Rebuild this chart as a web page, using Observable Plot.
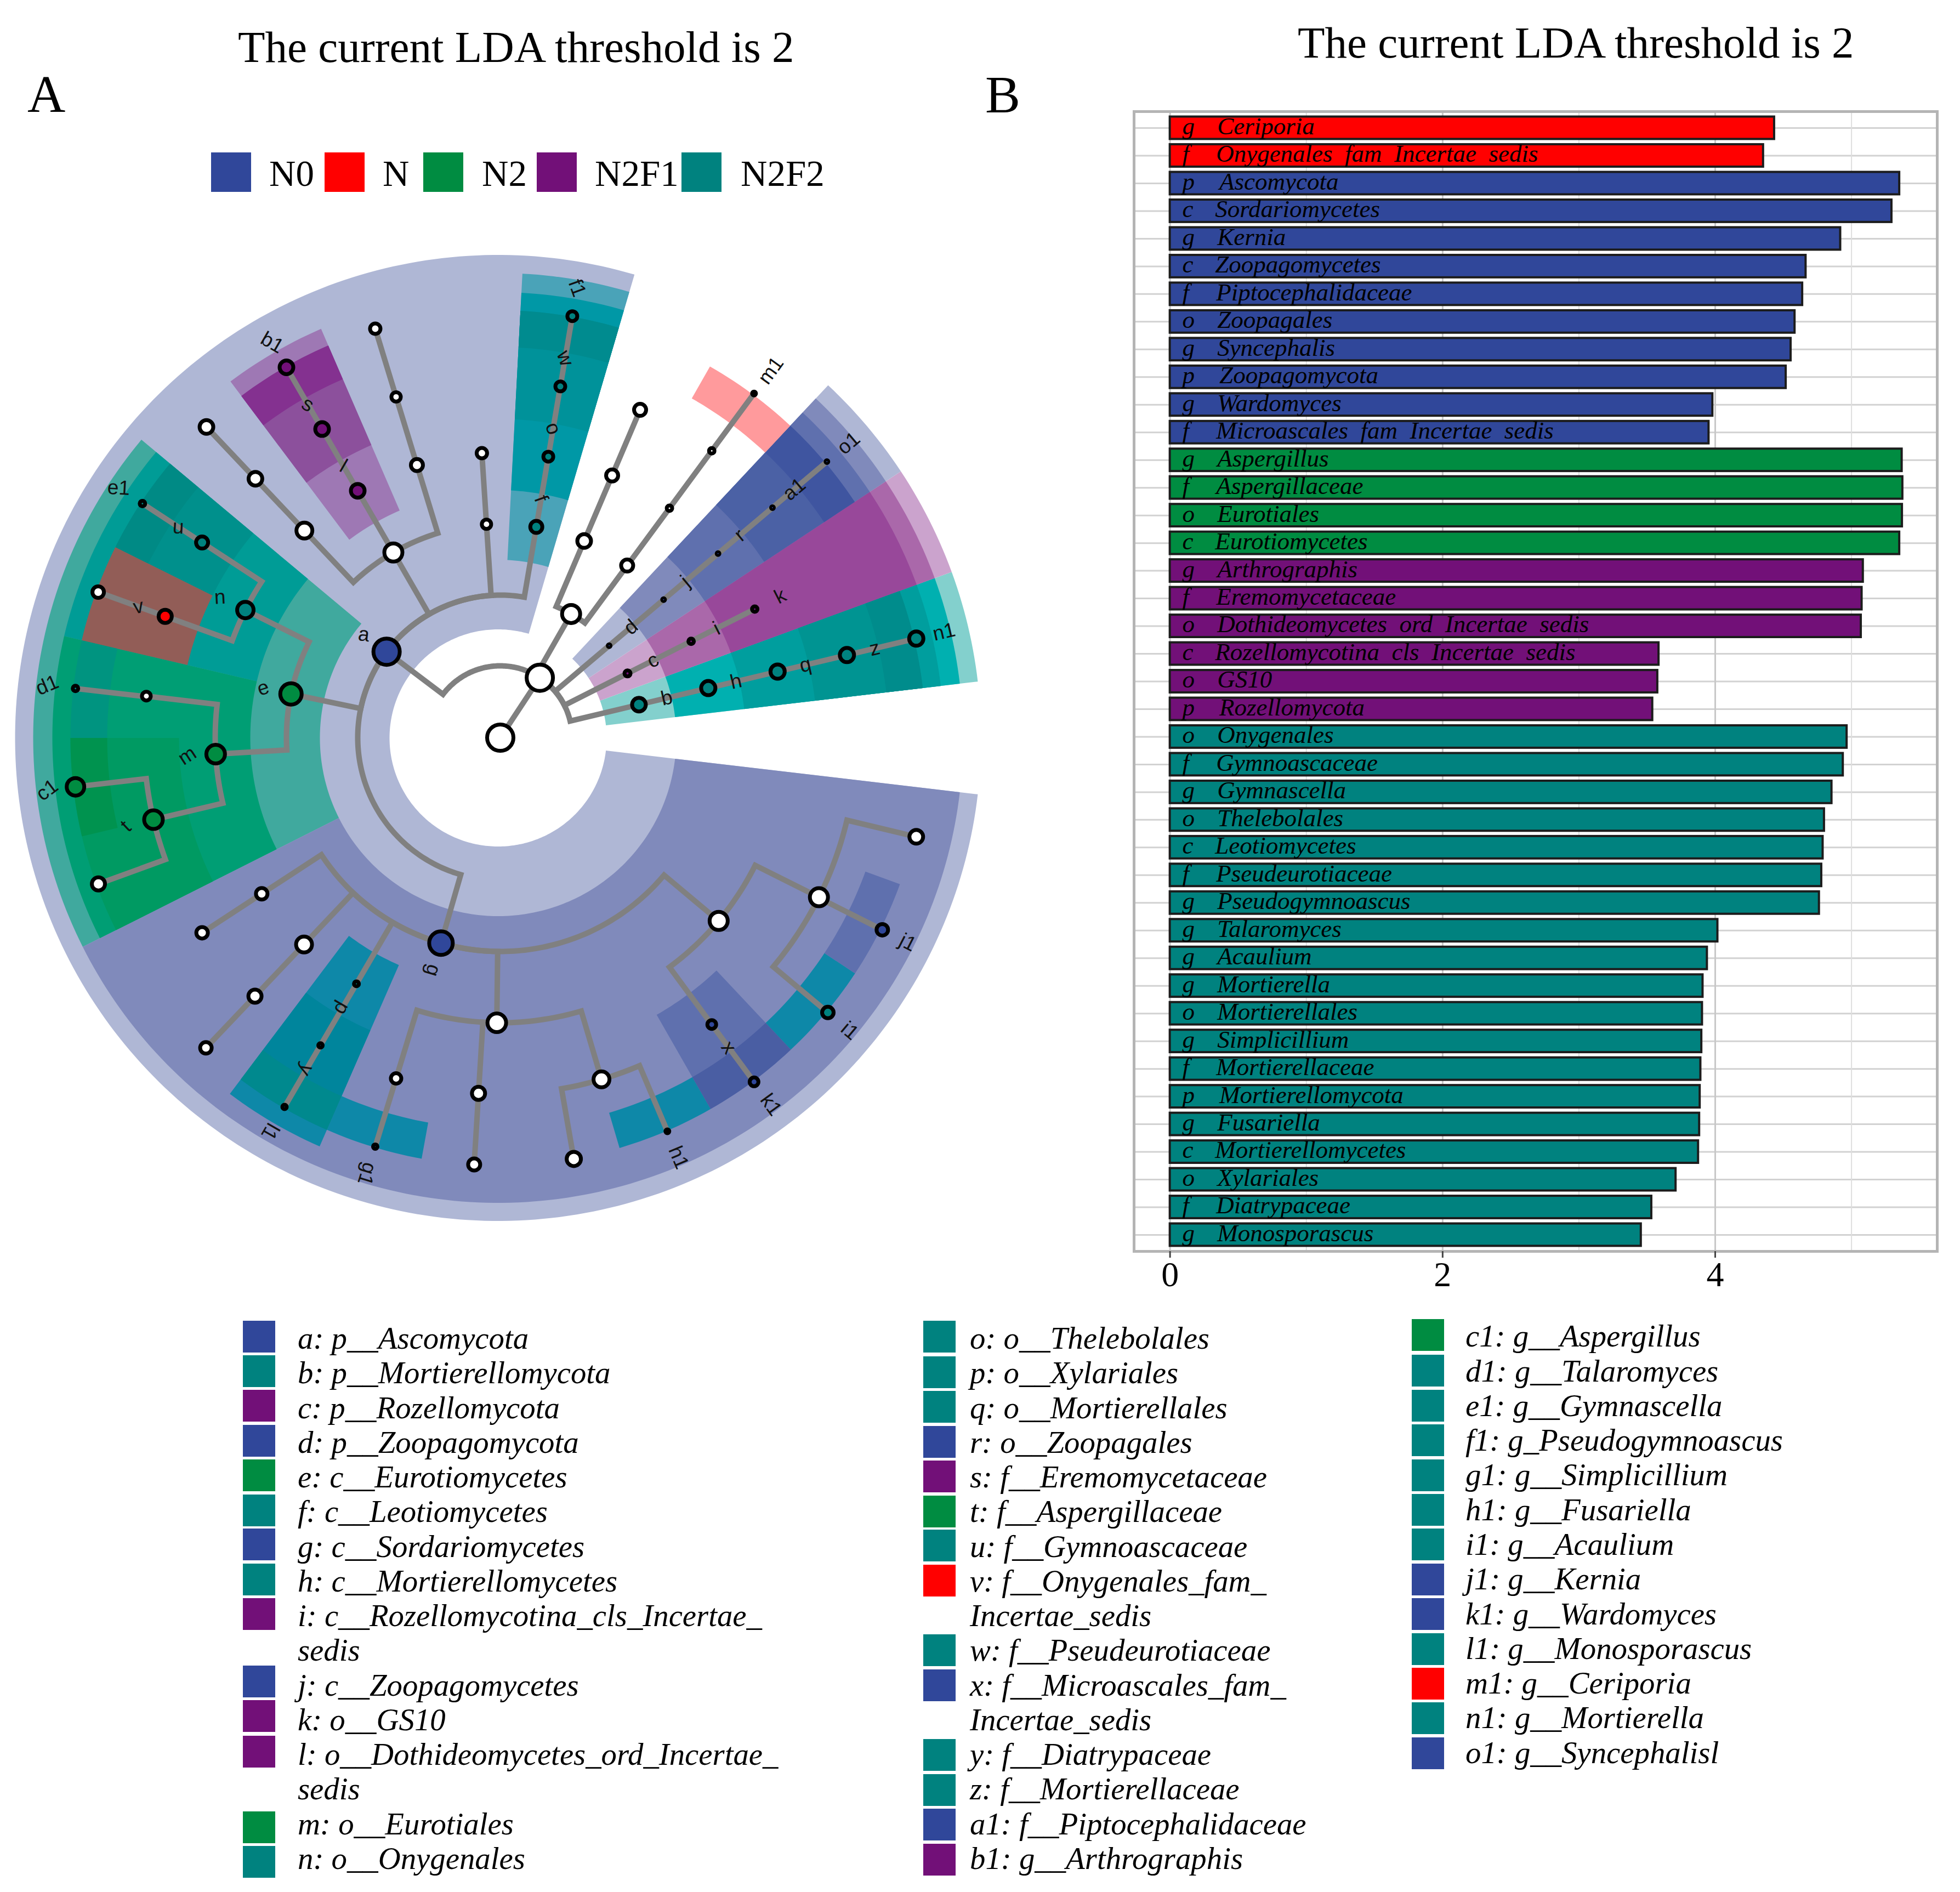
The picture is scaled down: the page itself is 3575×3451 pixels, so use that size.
<!DOCTYPE html>
<html>
<head>
<meta charset="utf-8">
<script src="https://cdn.jsdelivr.net/npm/d3@7"></script>
<script src="https://cdn.jsdelivr.net/npm/@observablehq/plot@0.6"></script>
<style>
html,body{margin:0;padding:0;background:#fff}
#page{position:relative;width:3575px;height:3451px;overflow:hidden;font-family:"Liberation Serif",serif;color:#000}
#page>*{position:absolute}
.t{white-space:pre;line-height:1}
.sw{display:block}
</style>
</head>
<body>
<div id="page"></div>
<script>
// ---------- group colours ----------
const groupNames = ["N0","N","N2","N2F1","N2F2"];
const groupColors = {N0:"#30479A",N:"#FF0000",N2:"#008C41",N2F1:"#721078",N2F2:"#00827F",none:"#FFFFFF"};

// ---------- panel B: LDA bars ----------
const barRanks = ["g","f","p","c","g","c","f","o","g","p","g","f","g","f","o","c","g","f","o","c","o","p","o","f","g","o","c","f","g","g","g","g","o","g","f","p","g","c","o","f","g"];
const barTaxa = ["Ceriporia","Onygenales_fam_Incertae_sedis","Ascomycota","Sordariomycetes","Kernia","Zoopagomycetes","Piptocephalidaceae","Zoopagales","Syncephalis","Zoopagomycota","Wardomyces","Microascales_fam_Incertae_sedis","Aspergillus","Aspergillaceae","Eurotiales","Eurotiomycetes","Arthrographis","Eremomycetaceae","Dothideomycetes_ord_Incertae_sedis","Rozellomycotina_cls_Incertae_sedis","GS10","Rozellomycota","Onygenales","Gymnoascaceae","Gymnascella","Thelebolales","Leotiomycetes","Pseudeurotiaceae","Pseudogymnoascus","Talaromyces","Acaulium","Mortierella","Mortierellales","Simplicillium","Mortierellaceae","Mortierellomycota","Fusariella","Mortierellomycetes","Xylariales","Diatrypaceae","Monosporascus"];
const barLDA = [4.434,4.353,5.352,5.295,4.919,4.665,4.640,4.584,4.555,4.519,3.981,3.953,5.370,5.375,5.372,5.352,5.085,5.076,5.070,3.586,3.577,3.540,4.966,4.938,4.855,4.800,4.790,4.780,4.763,4.018,3.941,3.909,3.905,3.900,3.893,3.888,3.884,3.876,3.711,3.533,3.456];
const barGroups = ["N","N","N0","N0","N0","N0","N0","N0","N0","N0","N0","N0","N2","N2","N2","N2","N2F1","N2F1","N2F1","N2F1","N2F1","N2F1","N2F2","N2F2","N2F2","N2F2","N2F2","N2F2","N2F2","N2F2","N2F2","N2F2","N2F2","N2F2","N2F2","N2F2","N2F2","N2F2","N2F2","N2F2","N2F2"];
const nameStart = {g:0.346,f:0.338,c:0.33,o:0.346,p:0.362};
const majorTicks = [0,2,4];
const minorTicks = [1,3,5];

// ---------- panel A: cladogram ----------
const levelRadius = [0,131,260,390,520,650,780];
const nodeId = ["root","K","a","b","c","d","P","e","f","g","C1","C2","h","i","j","C3","C4","O1","O2","k","r","q","o","O3","l","O4","O5","n","m","O6","O7","p","O8","O9","F1","F2","a1","z","w","s","F3","F4","u","v","F5","t","F6","F7","y","F8","F9","F10","x","F11","m1","o1","n1","f1","b1","G1","G2","e1","G3","d1","c1","G4","G5","l1","g1","G6","G7","h1","k1","i1","j1","G8"];
const nodeParent = [null,"root","K","K","K","K","K","a","a","a","a","a","b","c","d","P","P","C3","C4","i","j","h","f","C1","C2","C2","C2","e","e","g","g","g","g","g","O1","O2","r","q","o","l","O4","O5","n","n","m","m","O6","O7","p","O8","O8","O8","O9","O9","F2","a1","z","w","s","F3","F4","u","v","F5","t","t","F7","y","F8","F9","F10","F10","x","F11","F11","F11"];
const nodeAngle = [0,56.6,142.9,13.4,26.8,40.2,60.2,168.2,80.3,253.9,93.7,120,13.4,26.8,40.2,66.9,53.6,66.9,53.6,26.8,40.2,13.4,80.3,93.7,120,107,133.4,153.4,183.3,213.2,226.5,239.7,269.3,320,66.9,53.6,40.2,13.4,80.3,120,107,133.4,146.8,160.1,173.3,193.3,213.2,226.5,239.7,253,266.5,286.5,306.4,333.4,53.6,40.2,13.4,80.3,120,107,133.4,146.8,160.1,173.4,186.6,200,226.5,239.7,253,266.5,279.9,293,306.4,320,333.3,346.6];
const nodeLevel = [0,1,2,2,2,2,2,3,3,3,3,3,3,3,3,3,3,4,4,4,4,4,4,4,4,4,4,4,4,4,4,4,4,4,5,5,5,5,5,5,5,5,5,5,5,5,5,5,5,5,5,5,5,5,6,6,6,6,6,6,6,6,6,6,6,6,6,6,6,6,6,6,6,6,6,6];
const nodeSize = [55,55,55,32,18,12,40,46,29,50,24,40,33,17,12,32,29,29,17,17,12,33,25,26,32,29,36,37,41,28,36,16,41,40,29,17,12,33,25,32,24,32,29,31,23,41,28,31,15,26,31,36,23,40,14,12,33,25,32,26,32,17,28,17,39,31,28,15,15,29,33,14,23,28,28,32];
const nodeGroup = ["none","none","N0","N2F2","N2F1","N0","none","N2","N2F2","N0","none","none","N2F2","N2F1","N0","none","none","none","none","N2F1","N0","N2F2","N2F2","none","N2F1","none","none","N2F2","N2","none","none","N2F2","none","none","none","none","N0","N2F2","N2F2","N2F1","none","none","N2F2","N","none","N2","none","none","N2F2","none","none","none","N0","none","N","N0","N2F2","N2F2","N2F1","none","none","N2F2","none","N2F2","N2","none","none","N2F2","N2F2","none","none","N2F2","N0","N2F2","N0","none"];

// labels shown in the tree and their text turn
const labelNames = ["a","b","c","d","e","f","g","h","i","j","k","l","m","n","o","p","q","r","s","t","u","v","w","x","y","z","a1","b1","c1","d1","e1","f1","g1","h1","i1","j1","k1","l1","m1","n1","o1"];
const labelTurn = [7,-13,-27,-40,-18,70,106,-13,-27,-40,-27,30,-33,-3,70,120,-13,-40,30,-43,3,-10,70,54,120,-13,-40,30,-37,-23,3,70,107,67,40,27,54,120,-54,-13,-40];

// ring sectors: clade, first angle, last angle, rank, shade
const sectorClade = ["b","c","d","a","h","i","j","f","e","g","q","k","r","o","l","n","m","p","z","a1","w","s","u","v","t","y","x","n1","o1","f1","b1","e1","d1","c1","g1","h1","i1","j1","k1","l1","m1"];
const sectorFrom = [6.7,20.1,33.5,73.6,6.7,20.1,33.5,73.6,140.1,206.7,6.7,20.1,33.5,73.6,113.4,140.1,166.8,233,6.7,33.5,73.6,113.4,140.1,153.5,180,233,299.8,6.7,33.5,73.6,113.4,140.1,166.8,180,246.4,286.5,313.2,326.6,299.8,233,46.9];
const sectorTo = [20.1,33.5,46.9,353.3,20.1,33.5,46.9,87,206.7,353.3,20.1,33.5,46.9,87,126.9,166.8,206.7,246.4,20.1,46.9,87,126.9,153.5,166.8,206.7,246.4,313.2,20.1,46.9,87,126.9,153.5,180,193.3,259.7,299.8,326.6,340,313.2,246.4,60.3];
const sectorRank = ["phylum","phylum","phylum","phylum","class","class","class","class","class","class","order","order","order","order","order","order","order","order","family","family","family","family","family","family","family","family","family","genus","genus","genus","genus","genus","genus","genus","genus","genus","genus","genus","genus","genus","genus"];
const sectorShade = ["#83D0CD","#CBA3CD","#AFB7D5","#AFB7D5","#00B0B0","#AA68AA","#808ABB","#4AA3B8","#40A99E","#808ABB","#009E9E","#98489A","#5F70AE","#0098A6","#9E78B4","#009C96","#009E74","#0E88A8","#009492","#4B61A5","#00929A","#8C509C","#00908C","#925D57","#009A62","#00859C","#5F70AE","#008C8C","#3F55A0","#008B8F","#843190","#008A85","#009480","#00934F","#0E88A8","#0E88A8","#0E88A8","#5F70AE","#4A5EA3","#00898E","#FF9A9C"];
const rankInner = {phylum:198,class:325,order:452,family:582,genus:713};
const rankOuter = {phylum:881,class:848,order:813,family:780,genus:780};

// ---------- legend text ----------
const topLegendX = [385,592,772,979,1243];
const topLegendTextX = [491,698,879,1085,1351];
const legendCols = [
 {sw:443,tx:543,base:2460.6,top:[2409,2472,2535,2599,2662,2726,2788,2852,2915,null,3038,3101,3166,null,3304,3367],
  rows:[["a: p__Ascomycota","N0"],["b: p__Mortierellomycota","N2F2"],["c: p__Rozellomycota","N2F1"],["d: p__Zoopagomycota","N0"],["e: c__Eurotiomycetes","N2"],["f: c__Leotiomycetes","N2F2"],["g: c__Sordariomycetes","N0"],["h: c__Mortierellomycetes","N2F2"],["i: c__Rozellomycotina_cls_Incertae_","N2F1"],["sedis",null],["j: c__Zoopagomycetes","N0"],["k: o__GS10","N2F1"],["l: o__Dothideomycetes_ord_Incertae_","N2F1"],["sedis",null],["m: o__Eurotiales","N2"],["n: o__Onygenales","N2F2"]]},
 {sw:1684,tx:1769,base:2460.6,top:[2409,2474,2537,2601,2664,2728,2790,2854,null,2981,3045,null,3172,3236,3299,3363],
  rows:[["o: o__Thelebolales","N2F2"],["p: o__Xylariales","N2F2"],["q: o__Mortierellales","N2F2"],["r: o__Zoopagales","N0"],["s: f__Eremomycetaceae","N2F1"],["t: f__Aspergillaceae","N2"],["u: f__Gymnoascaceae","N2F2"],["v: f__Onygenales_fam_","N"],["Incertae_sedis",null],["w: f__Pseudeurotiaceae","N2F2"],["x: f__Microascales_fam_","N0"],["Incertae_sedis",null],["y: f__Diatrypaceae","N2F2"],["z: f__Mortierellaceae","N2F2"],["a1: f__Piptocephalidaceae","N0"],["b1: g__Arthrographis","N2F1"]]},
 {sw:2575,tx:2673,base:2457,top:[2406,2471,2535,2598,2662,2725,2788,2852,2915,2979,3042,3105,3169],
  rows:[["c1: g__Aspergillus","N2"],["d1: g__Talaromyces","N2F2"],["e1: g__Gymnascella","N2F2"],["f1: g_Pseudogymnoascus","N2F2"],["g1: g__Simplicillium","N2F2"],["h1: g__Fusariella","N2F2"],["i1: g__Acaulium","N2F2"],["j1: g__Kernia","N0"],["k1: g__Wardomyces","N0"],["l1: g__Monosporascus","N2F2"],["m1: g__Ceriporia","N"],["n1: g__Mortierella","N2F2"],["o1: g__Syncephalisl","N0"]]}
];

// ---------- helpers ----------
const page = document.getElementById("page");
function addText(str,x,baseline,size,style){
  const d=document.createElement("div");
  d.className="t"; d.textContent=str;
  d.style.left=x+"px"; d.style.top=(baseline-0.8375*size)+"px"; d.style.fontSize=size+"px";
  if(style) d.style.fontStyle=style;
  page.appendChild(d);
}
function addSwatch(x,y,w,h,c){
  const d=document.createElement("div");
  d.className="sw"; d.style.cssText=`left:${x}px;top:${y}px;width:${w}px;height:${h}px;background:${c}`;
  page.appendChild(d);
}
const rad = a=>a*Math.PI/180;
const px = (r,a)=>r*Math.cos(rad(a));
const py = (r,a)=>r*Math.sin(rad(a));

// titles and panel letters
addText("The current LDA threshold is 2",434,114,81);
addText("The current LDA threshold is 2",2367,106,81);
addText("A",50,204,96);
addText("B",1797,205,96);

// top legend
groupNames.forEach((g,i)=>{
  addSwatch(topLegendX[i],278,73,72,groupColors[g]);
  addText(g,topLegendTextX[i],339,67);
});

// lower legend
const rowStep = 63.26;
legendCols.forEach(col=>{
  col.rows.forEach(([label,g],i)=>{
    addText(label,col.tx,col.base+i*rowStep,56.8,"italic");
    if(g) addSwatch(col.sw,col.top[i],59,58,groupColors[g]);
  });
});

// ---------- cladogram ----------
const sectorCentreX = -3.5, sectorCentreY = -1;
const nodes = nodeId.map((id,i)=>({id,parent:nodeParent[i],angle:nodeAngle[i],radius:levelRadius[nodeLevel[i]],size:nodeSize[i],group:nodeGroup[i]}));
const byId = new Map(nodes.map(n=>[n.id,n]));
const edgePoints = [];
for(const n of nodes){
  if(!n.parent) continue;
  const p = byId.get(n.parent);
  const steps = Math.max(1,Math.ceil(Math.abs(n.angle-p.angle)));
  for(let s=0;s<=steps;s++){
    const a = p.angle+(n.angle-p.angle)*s/steps;
    edgePoints.push({id:n.id,x:px(p.radius,a),y:py(p.radius,a)});
  }
  edgePoints.push({id:n.id,x:px(n.radius,n.angle),y:py(n.radius,n.angle)});
}
const sectorPoints = [];
sectorClade.forEach((c,i)=>{
  const from=sectorFrom[i],to=sectorTo[i],r0=rankInner[sectorRank[i]],r1=rankOuter[sectorRank[i]];
  const steps=Math.ceil((to-from));
  for(let s=0;s<=steps;s++){
    const a=from+(to-from)*s/steps;
    sectorPoints.push({id:i,shade:sectorShade[i],x1:sectorCentreX+px(r1,a),y1:sectorCentreY+py(r1,a),x2:sectorCentreX+px(r0,a),y2:sectorCentreY+py(r0,a)});
  }
});
const labels = labelNames.map((name,i)=>{
  const n=byId.get(name);
  const r=n.radius+52;
  return {name,x:px(r,n.angle),y:py(r,n.angle),turn:labelTurn[i]};
});
const sw = 7;
const clado = Plot.plot({
  width:1824,height:1810,margin:0,
  x:{axis:null,domain:[-912,912]},
  y:{axis:null,domain:[-905,905]},
  color:{type:"identity"},
  r:{type:"identity"},
  style:{background:"transparent",overflow:"visible"},
  marks:[
    Plot.area(sectorPoints,{x1:"x1",y1:"y1",x2:"x2",y2:"y2",z:"id",fill:"shade",curve:"linear"}),
    Plot.line(edgePoints,{x:"x",y:"y",z:"id",stroke:"#808080",strokeWidth:10,curve:"linear",strokeLinejoin:"miter",strokeMiterlimit:4}),
    Plot.dot(nodes,{x:d=>px(d.radius,d.angle),y:d=>py(d.radius,d.angle),r:d=>Math.max(1.5,(d.size-sw)/2),fill:d=>groupColors[d.group],stroke:"#000",strokeWidth:sw}),
    Plot.text(labels,{x:"x",y:"y",text:"name",rotate:"turn",fontSize:37,fontFamily:"Liberation Sans",fill:"#111"})
  ]
});
clado.style.left="0px"; clado.style.top="440px";
page.appendChild(clado);

// ---------- bars ----------
const bars = barTaxa.map((t,i)=>({taxon:t,rank:barRanks[i],lda:barLDA[i],group:barGroups[i],row:i,start:nameStart[barRanks[i]],shown:t.replace(/_/g,"  ")}));
const serif = "Liberation Serif";
const barChart = Plot.plot({
  width:1575,height:2250,
  marginLeft:68,marginRight:42,marginTop:53,marginBottom:118,
  x:{domain:[-0.264,5.629],axis:null},
  y:{domain:d3.range(barTaxa.length),padding:0.19,round:false,axis:null},
  color:{type:"identity"},
  style:{background:"transparent",fontFamily:serif,overflow:"visible"},
  marks:[
    Plot.ruleY(bars,{y:"row",stroke:"#D2D2D2",strokeWidth:3}),
    Plot.ruleX(minorTicks,{stroke:"#DEDEDE",strokeWidth:2}),
    Plot.ruleX(majorTicks,{stroke:"#C8C8C8",strokeWidth:3}),
    Plot.frame({stroke:"#B4B4B4",strokeWidth:5}),
    Plot.barX(bars,{x1:0,x2:"lda",y:"row",fill:d=>groupColors[d.group],stroke:"#1C1C1C",strokeWidth:4}),
    Plot.text(bars,{x:0.09,y:"row",dy:-3,text:"rank",textAnchor:"start",fontSize:45,fontStyle:"italic",fontFamily:serif,fill:"#000"}),
    Plot.text(bars,{x:"start",y:"row",dy:-3,text:"shown",textAnchor:"start",fontSize:45,fontStyle:"italic",fontFamily:serif,fill:"#000"}),
    Plot.axisX({ticks:majorTicks,tickFormat:d=>String(d),tickSize:12,tickPadding:6,fontSize:64,fontFamily:serif,stroke:"#444",strokeWidth:3,label:null,anchor:"bottom",fill:"#000"})
  ]
});
barChart.style.left="2000px"; barChart.style.top="150px";
page.appendChild(barChart);
</script>
</body>
</html>
